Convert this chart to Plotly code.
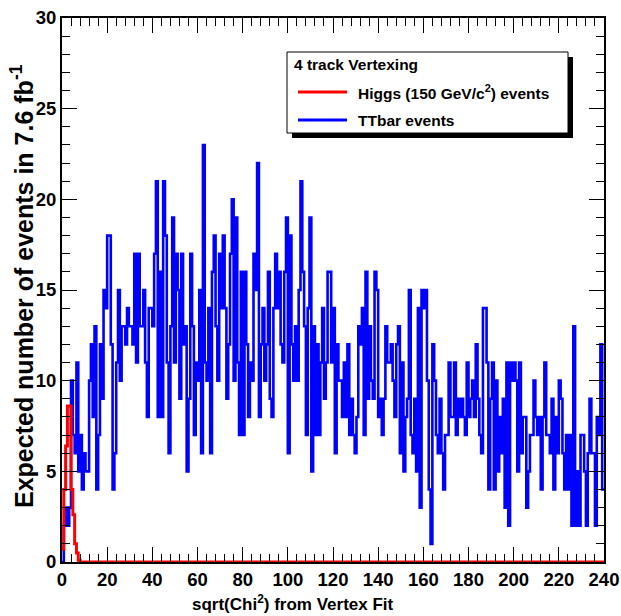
import plotly.graph_objects as go

# ---------------- data ----------------
X_MIN, X_MAX, N_BINS = 0.0, 240.0, 300
Y_MIN, Y_MAX = 0, 30
x_tick_step, x_minor_step = 20, 4
y_tick_step, y_minor_step = 5, 1

# TTbar events per bin (bin width 0.8)
ttbar_counts = [
    0, 2, 3, 2, 3, 10, 7, 6, 11, 5, 7, 4, 6, 5, 5, 10, 12, 8, 13, 4,
    7, 12, 9, 15, 14, 18, 18, 12, 4, 6, 11, 15, 10, 13, 13, 12, 14, 13, 13, 12,
    17, 11, 17, 13, 13, 15, 11, 8,
    14, 14, 13, 17, 21, 8, 16, 8, 21, 18, 11, 6, 13, 19, 11, 17, 15, 9, 17, 12,
    13, 5, 9, 17, 13, 7, 11, 10, 15, 6, 23, 11, 10, 14, 6, 16, 18, 13, 10, 17,
    14, 18, 14, 9, 12, 17, 20, 10, 19, 11, 7, 16, 7, 16, 12, 8, 11,
    10, 17, 15, 22, 8, 12, 14, 10, 12, 16, 9, 8, 14, 17, 14, 16, 12, 11, 16, 19,
    6, 18, 12, 10, 13, 10, 15, 21, 16, 13, 7, 14, 19, 5, 13, 7, 12, 7, 11, 14,
    9, 11, 16, 16, 11, 14, 6, 12, 10, 10, 8, 11, 8, 12, 7,
    9, 7, 6, 8, 13, 12, 14, 7, 16, 9, 13, 10, 9, 16, 15, 8, 9, 7, 9, 13,
    11, 11, 12, 10, 8, 12, 13, 6, 11, 5, 8, 9, 15, 7, 6, 9, 5, 14, 3, 15,
    14, 15, 10, 4, 1, 12, 10, 7, 6, 9, 6, 4, 7, 7, 11,
    8, 8, 11, 7, 9, 8, 9, 8, 7, 11, 8, 9, 10, 8, 12, 9, 7, 6, 14, 14,
    11, 4, 9, 11, 4, 10, 5, 8, 6, 9, 3, 11, 2, 11, 10, 11, 10, 5, 11, 6,
    8, 8, 3, 5,
    7, 7, 10, 8, 7, 8, 4, 8, 11, 7, 7, 6, 9, 4, 8, 6, 10, 9, 6, 4,
    7, 4, 7, 2, 13, 2, 5, 2, 7, 7, 5, 2, 6, 9, 6, 6, 2, 8, 7, 12, 4,
]

# Higgs (150 GeV/c^2) expected events, first non-empty bins
higgs_counts_head = [0.7, 4.0, 6.4, 8.6, 8.6, 4.0, 2.6, 1.0, 0.5, 0.1]
higgs_counts = higgs_counts_head + [0.0] * (N_BINS - len(higgs_counts_head))

legend_title = "4 track Vertexing"
higgs_label = "Higgs (150 GeV/c<sup>2</sup>) events"
ttbar_label = "TTbar events"
x_title = "sqrt(Chi<sup>2</sup>) from Vertex Fit"
y_title = "Expected number of events in 7.6 fb<sup>-1</sup>"

BIN_W = (X_MAX - X_MIN) / N_BINS


def step_xy(counts):
    xs = [X_MIN + i * BIN_W for i in range(len(counts))] + [X_MAX]
    ys = list(counts) + [counts[-1]]
    return xs, ys


# ---------------- layout constants (window pixels) ----------------
W, H = 621, 616
PLOT_L, PLOT_R, PLOT_T, PLOT_B = 62, 604, 18, 562
ML, MT = PLOT_L, PLOT_T
MR = W - PLOT_R
MB = H - PLOT_B
PW, PH = PLOT_R - PLOT_L, PLOT_B - PLOT_T


def px(xp):
    return (xp - PLOT_L) / PW


def py(yp):
    return (PLOT_B - yp) / PH


SANS = "Liberation Sans, Arial, Helvetica"

fig = go.Figure()
bx, by = step_xy(ttbar_counts)
fig.add_trace(go.Scatter(x=bx, y=by, mode="lines", line=dict(color="#0000ff", width=2.6, shape="hv"),
                         name=ttbar_label, showlegend=False, cliponaxis=False, hoverinfo="skip"))
hx, hy = step_xy(higgs_counts)
fig.add_trace(go.Scatter(x=hx, y=hy, mode="lines", line=dict(color="#ff0000", width=3, shape="hv"),
                         name=higgs_label, showlegend=False, cliponaxis=False, hoverinfo="skip"))

axis_common = dict(
    showline=True, linewidth=2, linecolor="black", mirror="allticks",
    ticks="inside", ticklen=15, tickwidth=1, tickcolor="black",
    showgrid=False, zeroline=False, automargin=False, ticklabeloverflow="allow",
    tickfont=dict(family=SANS, size=18.5, color="black", weight="bold"),
)
fig.update_xaxes(range=[X_MIN, X_MAX], tick0=0, dtick=x_tick_step,
                 minor=dict(dtick=x_minor_step, ticks="inside", ticklen=8, tickcolor="black", showgrid=False),
                 **axis_common)
fig.update_yaxes(range=[Y_MIN, Y_MAX], tick0=0, dtick=y_tick_step,
                 minor=dict(dtick=y_minor_step, ticks="inside", ticklen=8, tickcolor="black", showgrid=False),
                 **axis_common)

shapes = [
    # legend shadow
    dict(type="rect", xref="paper", yref="paper", x0=px(292), x1=px(573), y0=py(138), y1=py(57),
         fillcolor="black", line=dict(width=0), layer="above"),
    # legend box
    dict(type="rect", xref="paper", yref="paper", x0=px(287), x1=px(568), y0=py(133), y1=py(52),
         fillcolor="white", line=dict(color="black", width=1), layer="above"),
    # legend line samples
    dict(type="line", xref="paper", yref="paper", x0=px(298), x1=px(347), y0=py(92), y1=py(92),
         line=dict(color="#ff0000", width=3), layer="above"),
    dict(type="line", xref="paper", yref="paper", x0=px(298), x1=px(347), y0=py(120), y1=py(120),
         line=dict(color="#0000ff", width=3), layer="above"),
]

leg_font = dict(family=SANS, size=15.5, color="black", weight="bold")
annotations = [
    dict(text=legend_title, xref="paper", yref="paper", x=px(292), y=py(64), xanchor="left", yanchor="middle",
         showarrow=False, font=leg_font),
    dict(text=higgs_label, xref="paper", yref="paper", x=px(356), y=py(92), xanchor="left", yanchor="middle",
         showarrow=False, font=leg_font),
    dict(text=ttbar_label, xref="paper", yref="paper", x=px(356), y=py(120), xanchor="left", yanchor="middle",
         showarrow=False, font=leg_font),
    dict(text=x_title, xref="paper", yref="paper", x=px(293), y=py(603), xanchor="center", yanchor="middle",
         showarrow=False, font=dict(family=SANS, size=17, color="black", weight="bold")),
    dict(text=y_title, xref="paper", yref="paper", x=px(22), y=py(286), xanchor="center", yanchor="middle",
         textangle=-90, showarrow=False, font=dict(family=SANS, size=25, color="black", weight="bold")),
]

fig.update_layout(
    width=W, height=H, margin=dict(l=ML, r=MR, t=MT, b=MB, pad=0),
    paper_bgcolor="white", plot_bgcolor="white",
    shapes=shapes, annotations=annotations, showlegend=False, hovermode=False,
)

fig.write_html(
    "out.html",
    config={"displayModeBar": False, "staticPlot": True},
    post_script="document.body.style.margin='0';document.body.style.overflow='hidden';",
)
